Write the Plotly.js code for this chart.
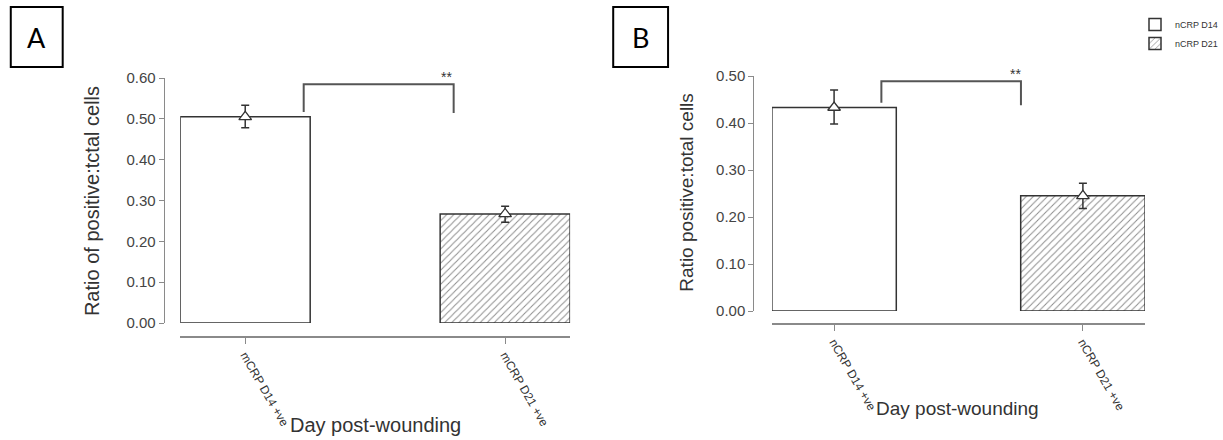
<!DOCTYPE html>
<html>
<head>
<meta charset="utf-8">
<script src="https://cdn.plot.ly/plotly-3.0.1.min.js"></script>
<style>
  html, body { margin: 0; padding: 0; background: #fff; }
  #chart { width: 1223px; height: 440px; }
</style>
</head>
<body>
<div id="chart"></div>
<script>
// Panel A: mCRP positive cells
const catsA = ["mCRP D14 +ve", "mCRP D21 +ve"];
const meanA = [0.505, 0.267];
const errUpA = [0.028, 0.019];
const errDownA = [0.027, 0.020];

// Panel B: nCRP positive cells
const catsB = ["nCRP D14 +ve", "nCRP D21 +ve"];
const meanB = [0.433, 0.245];
const errUpB = [0.037, 0.027];
const errDownB = [0.035, 0.027];

// Legend entries (drawn for panel B)
const legendNames = ["nCRP D14", "nCRP D21"];

const FONT = "Liberation Sans, Arial, sans-serif";
const DARK = "#333333";
const AXIS = "#8a8a8a";

const plainFill = { color: "#ffffff", line: { color: DARK, width: 1.5 } };
const hatchFill = {
  color: "#ffffff",
  line: { color: DARK, width: 1.5 },
  pattern: { shape: "/", fgcolor: "#8e8e8e", bgcolor: "#ffffff", size: 5, solidity: 0.2 }
};

function barTrace(cats, vals, i, marker, xa, ya, name, showlegend) {
  return {
    type: "bar", x: [cats[i]], y: [vals[i]], width: 0.5,
    marker: marker, name: name, showlegend: showlegend,
    xaxis: xa, yaxis: ya, hoverinfo: "x+y"
  };
}

function meanTrace(cats, vals, up, down, xa, ya) {
  return {
    type: "scatter", mode: "markers", x: cats, y: vals,
    xaxis: xa, yaxis: ya, showlegend: false,
    marker: { symbol: "triangle-up", size: 11, color: "#ffffff", line: { color: DARK, width: 1.3 } },
    error_y: { type: "data", symmetric: false, array: up, arrayminus: down,
               color: DARK, thickness: 1.5, width: 4 }
  };
}

const data = [
  barTrace(catsA, meanA, 0, plainFill, "x", "y", "mCRP D14", false),
  barTrace(catsA, meanA, 1, hatchFill, "x", "y", "mCRP D21", false),
  meanTrace(catsA, meanA, errUpA, errDownA, "x", "y"),
  barTrace(catsB, meanB, 0, plainFill, "x2", "y2", legendNames[0], true),
  barTrace(catsB, meanB, 1, hatchFill, "x2", "y2", legendNames[1], true),
  meanTrace(catsB, meanB, errUpB, errDownB, "x2", "y2")
];

const W = 1223, H = 440;
const px = v => v / W;
const py = v => (H - v) / H;

function xAxis(domain, pos, cats) {
  return {
    domain: domain, anchor: "free", position: pos,
    type: "category", categoryorder: "array", categoryarray: cats,
    range: [-0.25, 1.25], fixedrange: true,
    showline: true, linecolor: AXIS, linewidth: 1.6,
    ticks: "outside", ticklen: 6, tickwidth: 1, tickcolor: AXIS,
    tickangle: 60, tickfont: { family: FONT, size: 12, color: DARK },
    showgrid: false, zeroline: false
  };
}

function yAxis(domain, pos, top) {
  return {
    domain: domain, anchor: "free", position: pos,
    range: [0, top], dtick: 0.1, tick0: 0, tickformat: ".2f", fixedrange: true,
    showline: true, linecolor: AXIS, linewidth: 1,
    ticks: "outside", ticklen: 5, tickwidth: 1, tickcolor: AXIS,
    tickfont: { family: FONT, size: 15, color: "#444" },
    showgrid: false, zeroline: false
  };
}

const bracketLine = { color: "#555", width: 2 };

// text placed on the page at a pixel position
function label(text, x, y, size, opts) {
  return Object.assign({
    text: text, xref: "paper", yref: "paper", x: px(x), y: py(y),
    xanchor: "center", yanchor: "middle", showarrow: false,
    font: { family: FONT, size: size, color: DARK }
  }, opts || {});
}

const layout = {
  width: W, height: H,
  margin: { l: 0, r: 0, t: 0, b: 0 },
  paper_bgcolor: "#ffffff", plot_bgcolor: "rgba(0,0,0,0)",
  barmode: "overlay",
  font: { family: FONT, color: DARK },
  xaxis: xAxis([px(184), px(582)], py(336), catsA),
  yaxis: yAxis([py(323), py(78)], px(167), 0.6),
  xaxis2: xAxis([px(788), px(1169)], py(323), catsB),
  yaxis2: yAxis([py(311), py(76)], px(769), 0.5),
  showlegend: true,
  legend: {
    x: px(1159), y: py(10), xanchor: "left", yanchor: "top",
    bgcolor: "rgba(0,0,0,0)", borderwidth: 0,
    font: { family: "Liberation Sans Narrow, Liberation Sans, sans-serif", size: 9, color: DARK },
    itemwidth: 30, tracegroupgap: 0
  },
  shapes: [
    // panel label frames
    { type: "rect", xref: "paper", yref: "paper", x0: px(11), x1: px(64), y0: py(7), y1: py(67),
      line: { color: "#000", width: 2 } },
    { type: "rect", xref: "paper", yref: "paper", x0: px(626), x1: px(682), y0: py(7), y1: py(67),
      line: { color: "#000", width: 2 } },
    // significance bracket, panel A
    { type: "path", xref: "x", yref: "y",
      path: "M 0.225,0.517 L 0.225,0.585 L 0.802,0.585 L 0.802,0.514", line: bracketLine },
    // significance bracket, panel B
    { type: "path", xref: "x2", yref: "y2",
      path: "M 0.19,0.443 L 0.19,0.489 L 0.751,0.489 L 0.751,0.438", line: bracketLine }
  ],
  annotations: [
    label("A", 37.5, 38, 27, { font: { family: "Lato, Noto Sans, sans-serif", size: 27, color: "#000" } }),
    label("B", 654, 38, 27, { font: { family: "Lato, Noto Sans, sans-serif", size: 27, color: "#000" } }),
    label("**", 456, 77, 14),
    label("**", 1037, 74, 14),
    label("Ratio of positive:tctal cells", 94, 201, 20, { textangle: -90 }),
    label("Ratio positive:total cells", 700, 192, 19, { textangle: -90 }),
    label("Day post-wounding", 383, 425, 20),
    label("Day post-wounding", 977, 408, 19)
  ]
};

Plotly.newPlot("chart", data, layout, { staticPlot: true, displayModeBar: false });
</script>
</body>
</html>
